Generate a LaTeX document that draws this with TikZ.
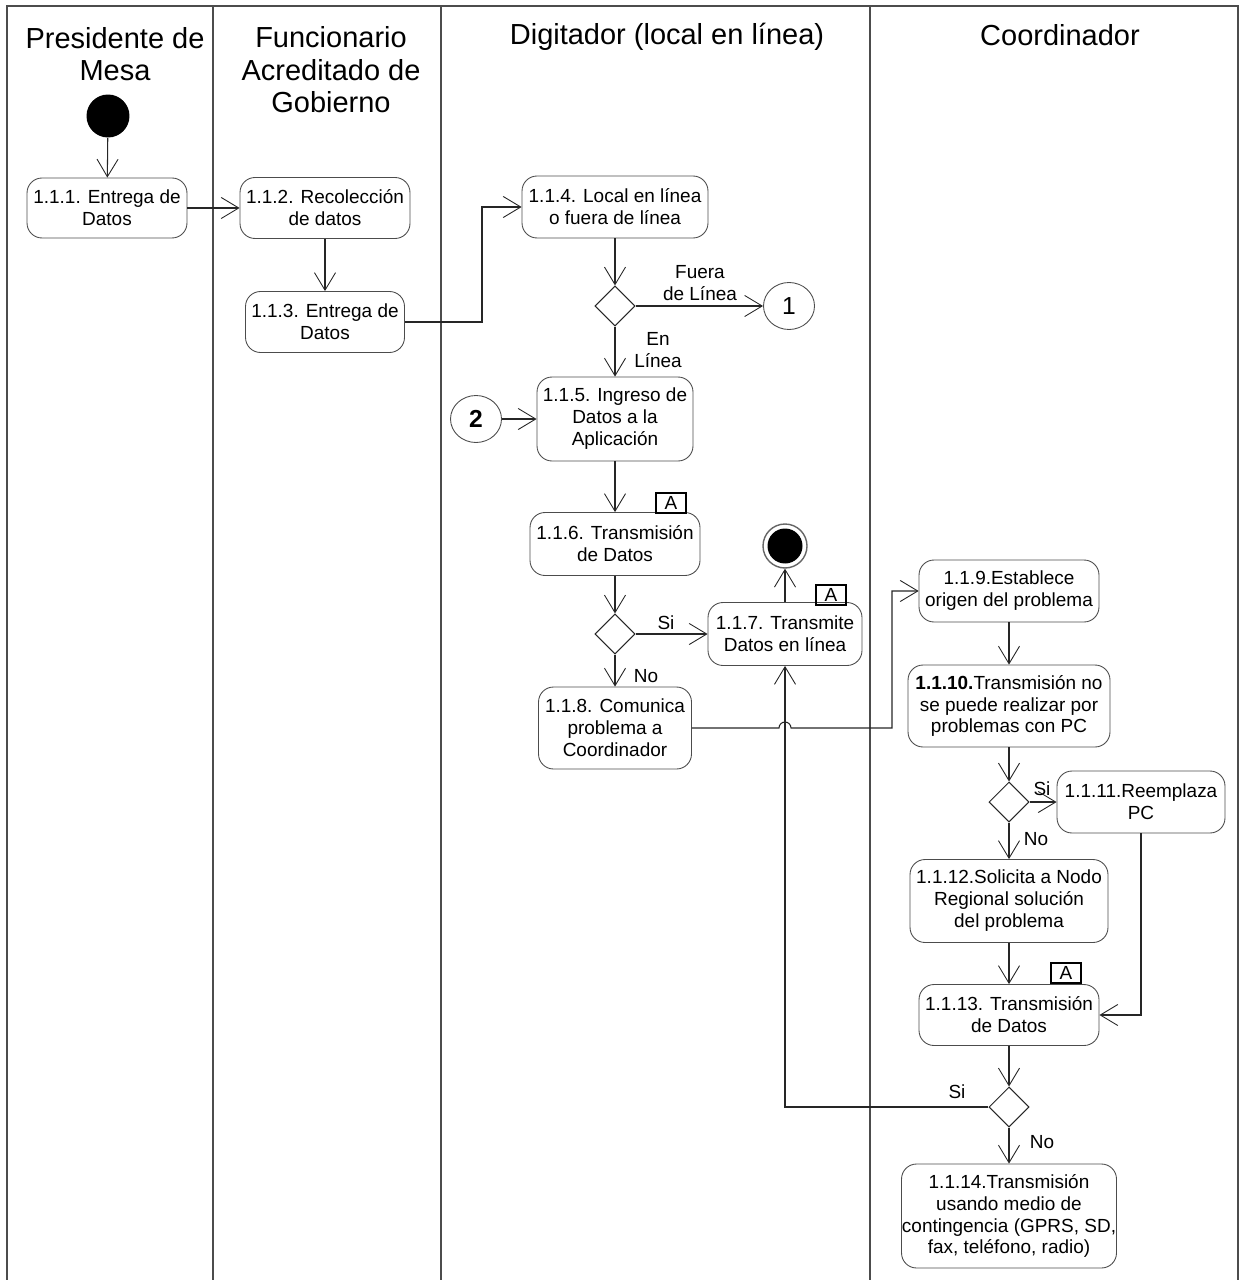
\documentclass[tikz,border=0pt]{standalone}
\usepackage{fontspec}
\setmainfont{Liberation Sans}
\usetikzlibrary{arrows.meta,shapes.geometric,calc}
\begin{document}
\begin{tikzpicture}[x=0.02cm,y=-0.02cm,
  box/.style={draw=black!70, line width=0.5pt, rounded corners=0.3cm, align=center, inner sep=0pt, font=\fontsize{10.8}{12.5}\selectfont},
  dec/.style={draw=black!85, diamond, minimum width=0.8cm, minimum height=0.8cm, inner sep=0pt, line width=0.6pt},
  conn/.style={draw=black!70, ellipse, minimum width=1.02cm, minimum height=0.94cm, inner sep=0pt, line width=0.5pt, font=\fontsize{14}{16}\selectfont},
  flow/.style={draw=black!85, line width=0.6pt, -{Straight Barb[length=10pt,width=12pt,line width=0.5pt]}},
  lbl/.style={font=\fontsize{10.8}{12.5}\selectfont, align=center, inner sep=0pt},
  hdr/.style={font=\fontsize{16.5}{18.5}\selectfont, align=center, inner sep=0pt},
  tag/.style={draw=black, line width=0.6pt, minimum width=0.6cm, minimum height=0.4cm, inner sep=0pt, font=\fontsize{10.8}{12}\selectfont},
  lane/.style={draw=black!70, line width=0.8pt}
]
\path[use as bounding box] (0,0) rectangle (1240,1280);
% swimlanes
\draw[lane] (7,1280) -- (7,6) -- (1238,6) -- (1238,1280);
\draw[lane] (213,6) -- (213,1280);
\draw[lane] (441,6) -- (441,1280);
\draw[lane] (870,6) -- (870,1280);
\node[hdr] (h1) at (115,54) {Presidente de\\Mesa};
\node[hdr] (h2) at (331,70) {Funcionario\\Acreditado de\\Gobierno};
\node[hdr] (h3) at (667,37) {Digitador (local en línea)};
\node[hdr] (h4) at (1060,35) {Coordinador};

% nodes
\node[fill=black, circle, minimum size=0.86cm, inner sep=0pt] (start) at (108,116) {};
\node[box, minimum width=3.2cm, minimum height=1.2cm] (n111) at (107,208) {1.1.1. Entrega de\\Datos};
\node[box, minimum width=3.4cm, minimum height=1.22cm] (n112) at (325,208) {1.1.2. Recolección\\de datos};
\node[box, minimum width=3.18cm, minimum height=1.22cm] (n113) at (325,322) {1.1.3. Entrega de\\Datos};
\node[box, minimum width=3.72cm, minimum height=1.24cm] (n114) at (615,207) {1.1.4. Local en línea\\o fuera de línea};
\node[dec] (d1) at (615,306) {};
\node[conn] (c1) at (789,306) {1};
\node[box, minimum width=3.12cm, minimum height=1.68cm] (n115) at (615,419) {1.1.5. Ingreso de\\Datos a la\\Aplicación};
\node[conn, font=\fontsize{14}{16}\selectfont\bfseries] (c2) at (476,419) {2};
\node[box, minimum width=3.4cm, minimum height=1.26cm] (n116) at (615,544) {1.1.6. Transmisión\\de Datos};
\node[tag] (t1) at (671,503) {A};
\node[dec] (d2) at (615,634) {};
\node[box, minimum width=3.08cm, minimum height=1.26cm] (n117) at (785,634) {1.1.7. Transmite\\Datos en línea};
\node[tag] (t2) at (831,595) {A};
\node[circle, draw=black!60, line width=0.8pt, minimum size=0.88cm, inner sep=0pt,
  path picture={\fill[black] (path picture bounding box.center) circle (0.35cm);}] (endc) at (785,546) {};
\node[box, minimum width=3.06cm, minimum height=1.64cm] (n118) at (615,728) {1.1.8. Comunica\\problema a\\Coordinador};
\node[box, minimum width=3.6cm, minimum height=1.24cm] (n119) at (1009,591) {1.1.9.Establece\\origen del problema};
\node[box, minimum width=4.04cm, minimum height=1.64cm] (n1110) at (1009,706) {\textbf{1.1.10.}Transmisión no\\se puede realizar por\\problemas con PC};
\node[dec] (d3) at (1009,802) {};
\node[box, minimum width=3.36cm, minimum height=1.24cm] (n1111) at (1141,802) {1.1.11.Reemplaza\\PC};
\node[box, minimum width=3.96cm, minimum height=1.66cm] (n1112) at (1009,901) {1.1.12.Solicita a Nodo\\Regional solución\\del problema};
\node[box, minimum width=3.6cm, minimum height=1.22cm] (n1113) at (1009,1015) {1.1.13. Transmisión\\de Datos};
\node[tag] (t3) at (1066,973) {A};
\node[dec] (d4) at (1009,1107) {};
\node[box, minimum width=4.3cm, minimum height=2.08cm] (n1114) at (1009,1216) {1.1.14.Transmisión\\usando medio de\\contingencia (GPRS, SD,\\fax, teléfono, radio)};

% labels
\node[lbl] (lf) at (700,283) {Fuera\\de Línea};
\node[lbl] (le) at (658,350) {En\\Línea};
\node[lbl] (ls1) at (666,623) {Si};
\node[lbl] (ln1) at (646,676) {No};
\node[lbl] (ls2) at (1042,789) {Si};
\node[lbl] (ln2) at (1036,839) {No};
\node[lbl] (ls3) at (957,1092) {Si};
\node[lbl] (ln3) at (1042,1142) {No};

% flows
\draw[flow] (start) -- (n111);
\draw[flow] (n111) -- (n112);
\draw[flow] (n112) -- (n113);
\draw[flow] (n113.east) -- (482,322) |- (n114.west);
\draw[flow] (n114) -- (d1);
\draw[flow] (d1) -- (c1);
\draw[flow] (d1) -- (n115);
\draw[flow] (c2) -- (n115);
\draw[flow] (n115) -- (n116);
\draw[flow] (n116) -- (d2);
\draw[flow] (d2) -- (n117);
\draw[flow] (d2) -- (n118);
\draw[flow] (n117) -- (endc);
\draw[flow] (n118.east) -- (779,728) arc[start angle=180,end angle=0,radius=0.12cm] -- (892,728) |- (n119.west);
\draw[flow] (n119) -- (n1110);
\draw[flow] (n1110) -- (d3);
\draw[flow] (d3) -- (n1111);
\draw[flow] (d3) -- (n1112);
\draw[flow] (n1111) |- (n1113);
\draw[flow] (n1112) -- (n1113);
\draw[flow] (n1113) -- (d4);
\draw[flow] (d4) -| (n117);
\draw[flow] (d4) -- (n1114);
\end{tikzpicture}
\end{document}
